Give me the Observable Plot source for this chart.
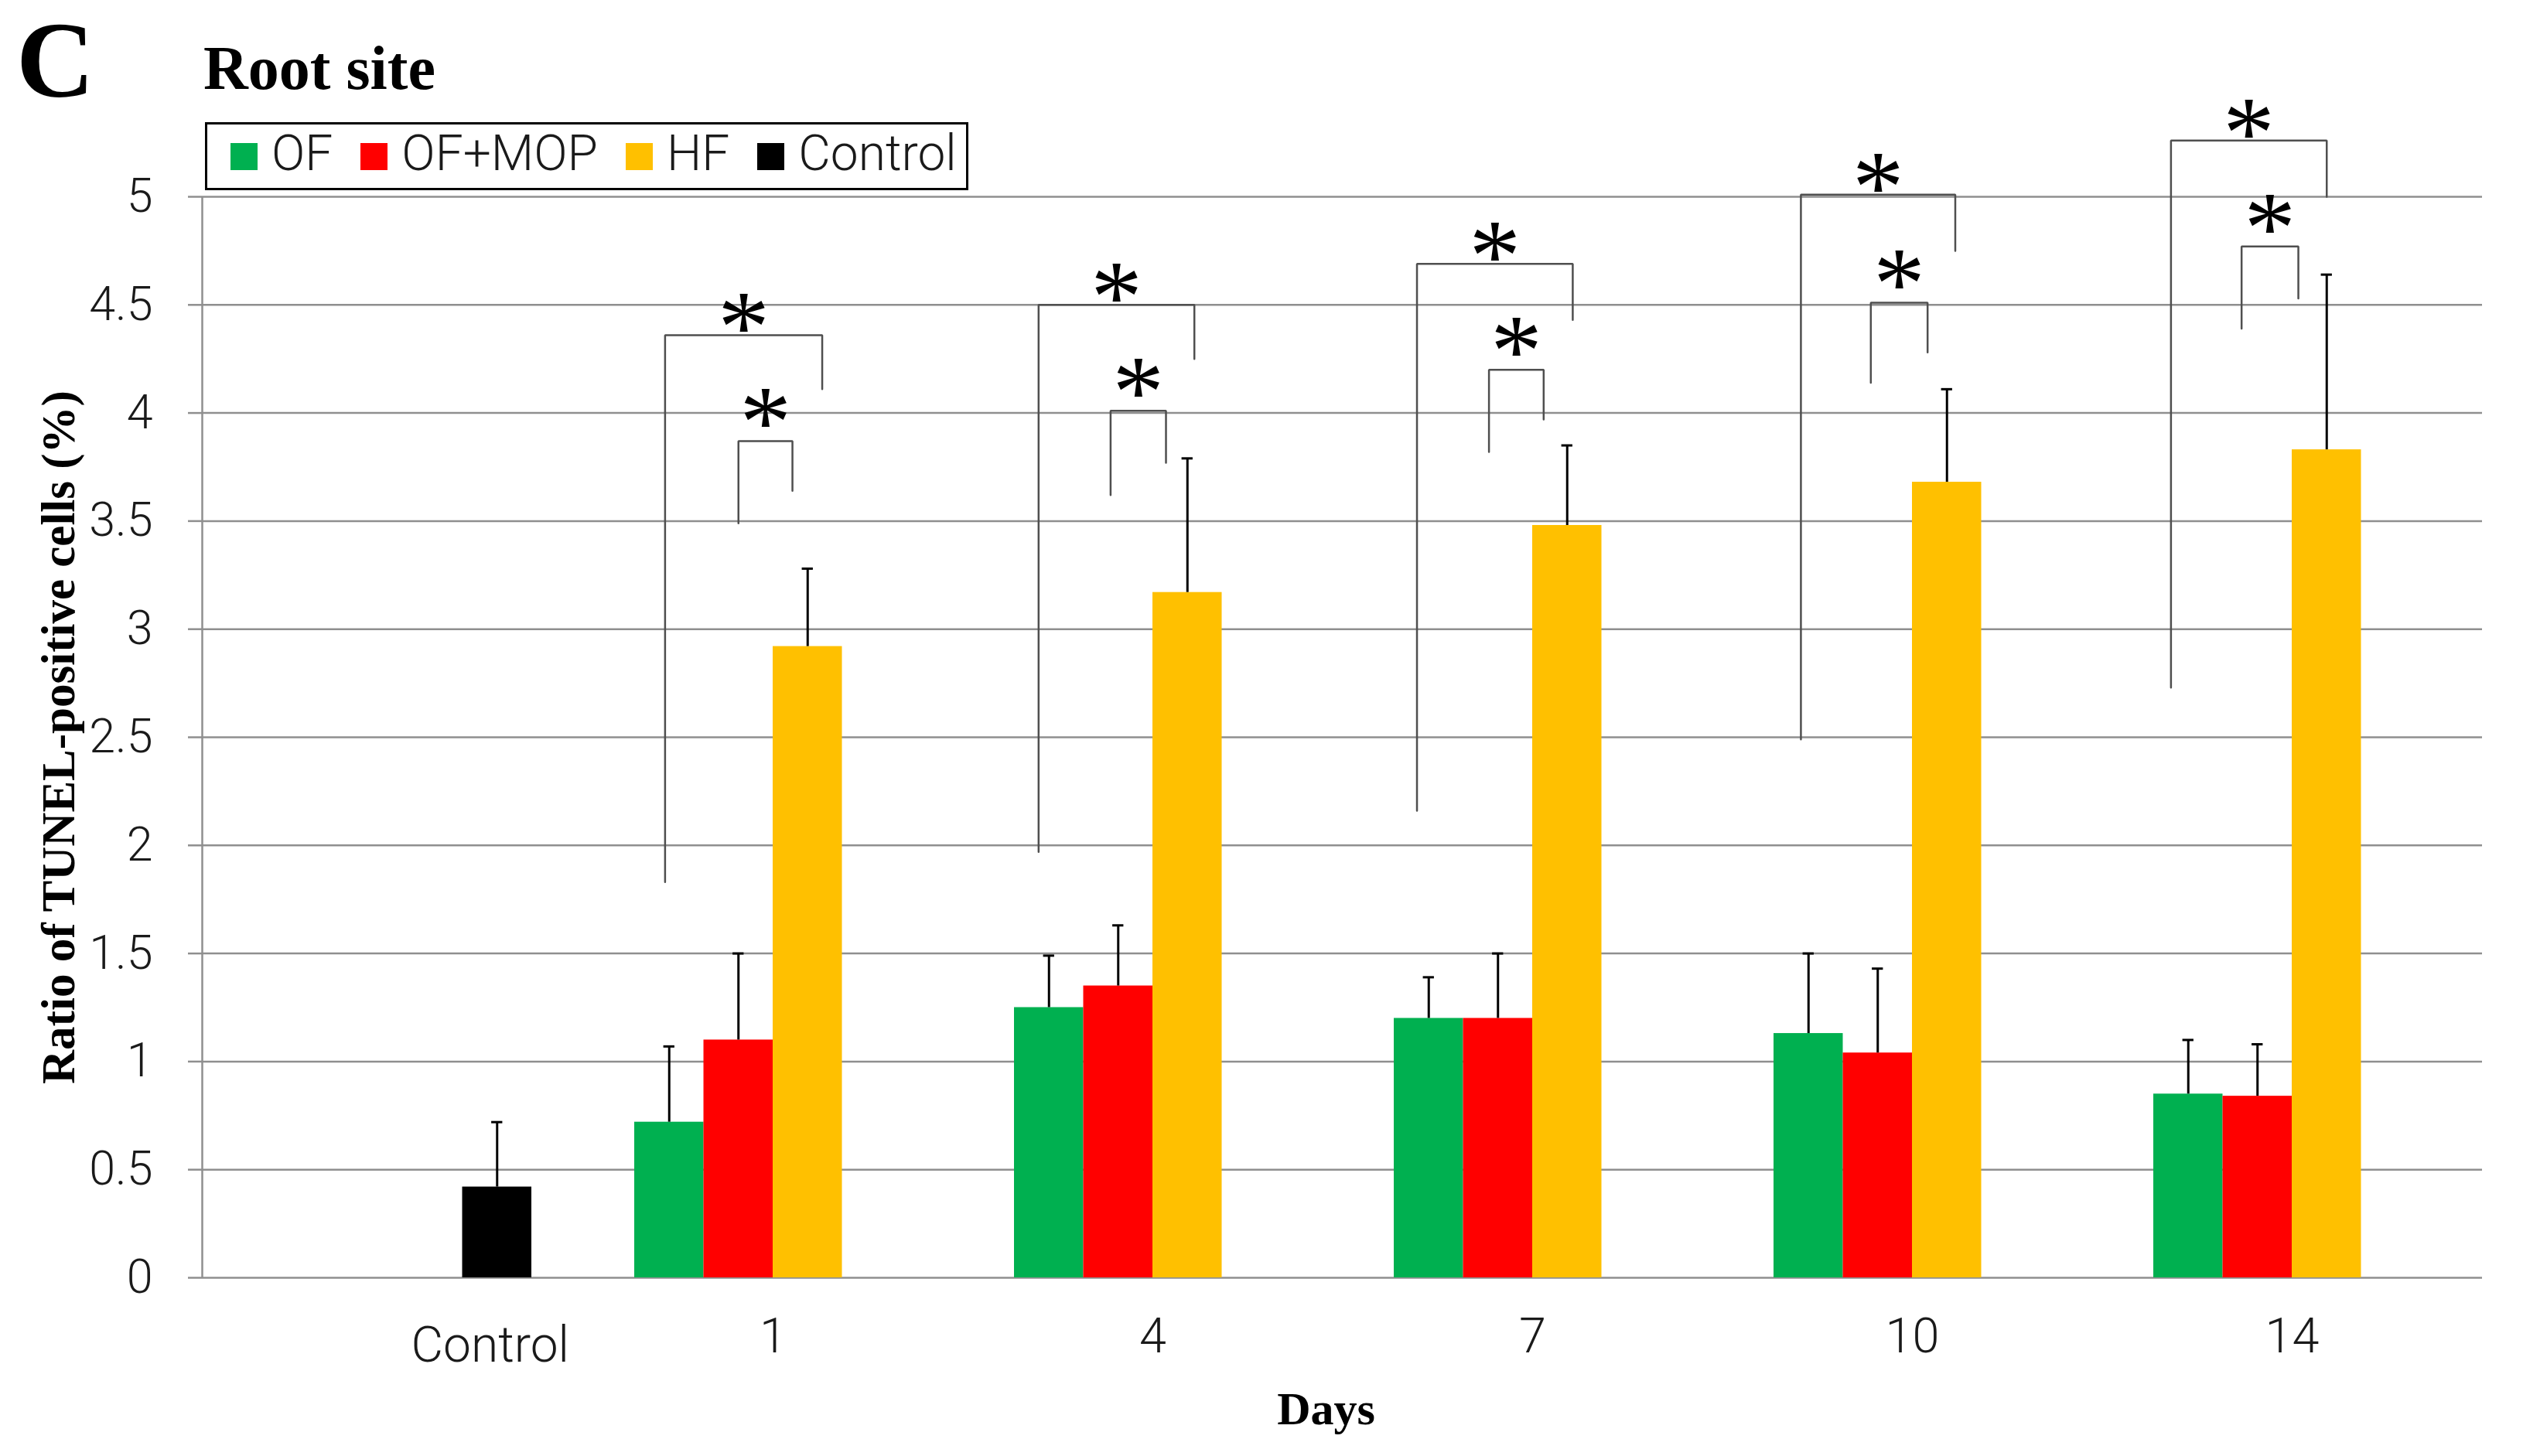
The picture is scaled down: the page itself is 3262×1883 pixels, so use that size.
<!DOCTYPE html>
<html>
<head>
<meta charset="utf-8">
<script src="https://cdn.jsdelivr.net/npm/d3@7"></script>
<script src="https://cdn.jsdelivr.net/npm/@observablehq/plot@0.6"></script>
<style>
html, body { margin: 0; padding: 0; background: #fff; }
#wrap { position: relative; width: 3262px; height: 1883px; overflow: hidden; background: #fff; }
.layer { position: absolute; left: 0; top: 125px; }
#hdrC { position: absolute; left: 21px; top: 8px; font: bold 140px/1 "Liberation Serif", serif; color: #000; }
#hdrT { position: absolute; left: 263px; top: 48px; font: bold 80px/1 "Liberation Serif", serif; color: #000; }
#legend { position: absolute; left: 265px; top: 158px; width: 987px; height: 88px; border: 3px solid #000; box-sizing: border-box;
  display: flex; align-items: center; padding-left: 30px; font: 300 64px/1 Roboto, sans-serif; color: #1a1a1a; background: #fff; z-index: 3; }
#legend .sw { width: 35px; height: 35px; margin-right: 18px; flex: none; }
#legend .lab { margin-right: 36px; white-space: nowrap; position: relative; top: -3px; }
</style>
</head>
<body>
<div id="wrap">
  <div id="baseLayer" class="layer"></div>
  <div id="topLayer" class="layer"></div>
  <div id="hdrC">C</div>
  <div id="hdrT">Root site</div>
  <div id="legend"></div>
</div>
<script>
// ---------- data ----------
const categories = ["Control", "1", "4", "7", "10", "14"];
const days = ["1", "4", "7", "10", "14"];
const series = ["OF", "OF+MOP", "HF", "Control"];
const colors = ["#00B050", "#FF0000", "#FFC000", "#000000"];

const ofMean    = [0.72, 1.25, 1.20, 1.13, 0.85];
const ofSD      = [0.35, 0.24, 0.19, 0.37, 0.25];
const ofMopMean = [1.10, 1.35, 1.20, 1.04, 0.84];
const ofMopSD   = [0.40, 0.28, 0.30, 0.39, 0.24];
const hfMean    = [2.92, 3.17, 3.48, 3.68, 3.83];
const hfSD      = [0.36, 0.62, 0.37, 0.43, 0.81];
const controlMean = 0.42;
const controlSD   = 0.30;

// significance brackets (x in bar-slot units inside a day group, y in data units)
const outerLeftX   = [0.44, 0.35, 0.33, 0.39, 0.25];
const outerRightX  = [2.71, 2.60, 2.58, 2.62, 2.50];
const outerTop     = [4.36, 4.50, 4.69, 5.01, 5.26];
const outerLeftLow = [1.83, 1.97, 2.16, 2.49, 2.73];
const outerRightLow= [4.11, 4.25, 4.43, 4.75, 5.00];
const innerLeftX   = [1.50, 1.39, 1.37, 1.40, 1.27];
const innerRightX  = [2.28, 2.19, 2.16, 2.22, 2.09];
const innerTop     = [3.87, 4.01, 4.20, 4.51, 4.77];
const innerLeftLow = [3.49, 3.62, 3.82, 4.14, 4.39];
const innerRightLow= [3.64, 3.77, 3.97, 4.28, 4.53];

const yTicks = [0, 0.5, 1, 1.5, 2, 2.5, 3, 3.5, 4, 4.5, 5];
const yTickLabels = ["0", "0.5", "1", "1.5", "2", "2.5", "3", "3.5", "4", "4.5", "5"];
const yTitle = "Ratio of TUNEL-positive cells (%)";
const xTitle = "Days";
const sigMark = "*";

// ---------- tables ----------
const bars = [{day: "Control", series: "Control", value: controlMean, sd: controlSD}];
days.forEach((d, i) => {
  bars.push({day: d, series: "OF", value: ofMean[i], sd: ofSD[i]});
  bars.push({day: d, series: "OF+MOP", value: ofMopMean[i], sd: ofMopSD[i]});
  bars.push({day: d, series: "HF", value: hfMean[i], sd: hfSD[i]});
});
const slot = s => series.indexOf(s);

const brackets = [];
days.forEach((d, i) => {
  brackets.push({day: d, kind: "outer", xl: outerLeftX[i], xr: outerRightX[i], top: outerTop[i], ll: outerLeftLow[i], rl: outerRightLow[i]});
  brackets.push({day: d, kind: "inner", xl: innerLeftX[i], xr: innerRightX[i], top: innerTop[i], ll: innerLeftLow[i], rl: innerRightLow[i]});
});
const bracketPts = [];
brackets.forEach((b, k) => {
  bracketPts.push({id: k, day: b.day, x: b.xl, y: b.ll});
  bracketPts.push({id: k, day: b.day, x: b.xl, y: b.top});
  bracketPts.push({id: k, day: b.day, x: b.xr, y: b.top});
  bracketPts.push({id: k, day: b.day, x: b.xr, y: b.rl});
});

// ---------- legend ----------
const leg = document.getElementById("legend");
series.forEach((s, i) => {
  const sw = document.createElement("span"); sw.className = "sw"; sw.style.background = colors[i];
  const lb = document.createElement("span"); lb.className = "lab"; lb.textContent = s;
  leg.appendChild(sw); leg.appendChild(lb);
});

// ---------- layout ----------
const W = 3262, H = 1758;
const M = {marginLeft: 261, marginRight: 53, marginTop: 129, marginBottom: 231};
const sans = "Roboto, sans-serif";
const serif = "Liberation Serif, serif";
const gridColor = "#8f8f8f";

const basePlot = Plot.plot({
  width: W, height: H, ...M,
  x: {domain: [0, 1], axis: null},
  y: {domain: [0, 5], axis: null},
  style: {background: "white", overflow: "visible"},
  marks: [
    Plot.ruleY(yTicks, {stroke: gridColor, strokeWidth: 2.5}),
    Plot.ruleX([0], {stroke: gridColor, strokeWidth: 2.5}),
    Plot.axisY({ticks: yTicks, tickFormat: d => yTickLabels[yTicks.indexOf(d)], tickSize: 18, tickPadding: 46,
      stroke: gridColor, strokeWidth: 2.5, fill: "#1a1a1a", fontSize: 61, fontWeight: 300, fontFamily: sans, label: null}),
    Plot.text([yTitle], {frameAnchor: "left", textAnchor: "middle", rotate: -90, dx: -185, fontSize: 61, fontWeight: "bold", fontFamily: serif, fill: "#000"}),
    Plot.text([xTitle], {frameAnchor: "bottom", dx: -21, dy: 189, fontSize: 60, fontWeight: "bold", fontFamily: serif, fill: "#000"})
  ]
});
document.getElementById("baseLayer").appendChild(basePlot);

const barPlot = Plot.plot({
  width: W, height: H, ...M,
  fx: {domain: categories, paddingInner: 0.271, paddingOuter: 0.1355, axis: null, label: null},
  x: {domain: [0, 4], axis: null},
  y: {domain: [0, 5], axis: null},
  color: {domain: series, range: colors},
  style: {background: "transparent", overflow: "visible"},
  marks: [
    Plot.rect(bars, {fx: "day", x1: d => slot(d.series), x2: d => slot(d.series) + 1, y1: 0, y2: "value", fill: "series"}),
    Plot.ruleX(bars, {fx: "day", x: d => slot(d.series) + 0.5, y1: "value", y2: d => d.value + d.sd, stroke: "#000", strokeWidth: 3}),
    Plot.ruleY(bars, {fx: "day", y: d => d.value + d.sd, x1: d => slot(d.series) + 0.42, x2: d => slot(d.series) + 0.58, stroke: "#000", strokeWidth: 3}),
    Plot.line(bracketPts, {fx: "day", x: "x", y: "y", z: "id", stroke: "#4f4f4f", strokeWidth: 2.5, strokeLinejoin: "miter"}),
    Plot.text(brackets.filter(b => b.kind === "outer"), {fx: "day", x: d => (d.xl + d.xr) / 2, y: "top", text: () => sigMark,
      dy: -8, fontSize: 134, fontFamily: serif, fill: "#000"}),
    Plot.text(brackets.filter(b => b.kind === "inner"), {fx: "day", x: d => (d.xl + d.xr) / 2, y: "top", text: () => sigMark,
      dy: -22, fontSize: 134, fontFamily: serif, fill: "#000"}),
    Plot.text(days, {fx: d => d, text: d => d, frameAnchor: "bottom", dy: 96, fontSize: 63, fontWeight: 300, fontFamily: sans, fill: "#1a1a1a"}),
    Plot.text(["Control"], {fx: d => d, x: () => slot("Control") + 0.5, text: d => d, frameAnchor: "bottom", dx: -9, dy: 108,
      fontSize: 64, fontWeight: 300, fontFamily: sans, fill: "#1a1a1a"})
  ]
});
document.getElementById("topLayer").appendChild(barPlot);
</script>
</body>
</html>
